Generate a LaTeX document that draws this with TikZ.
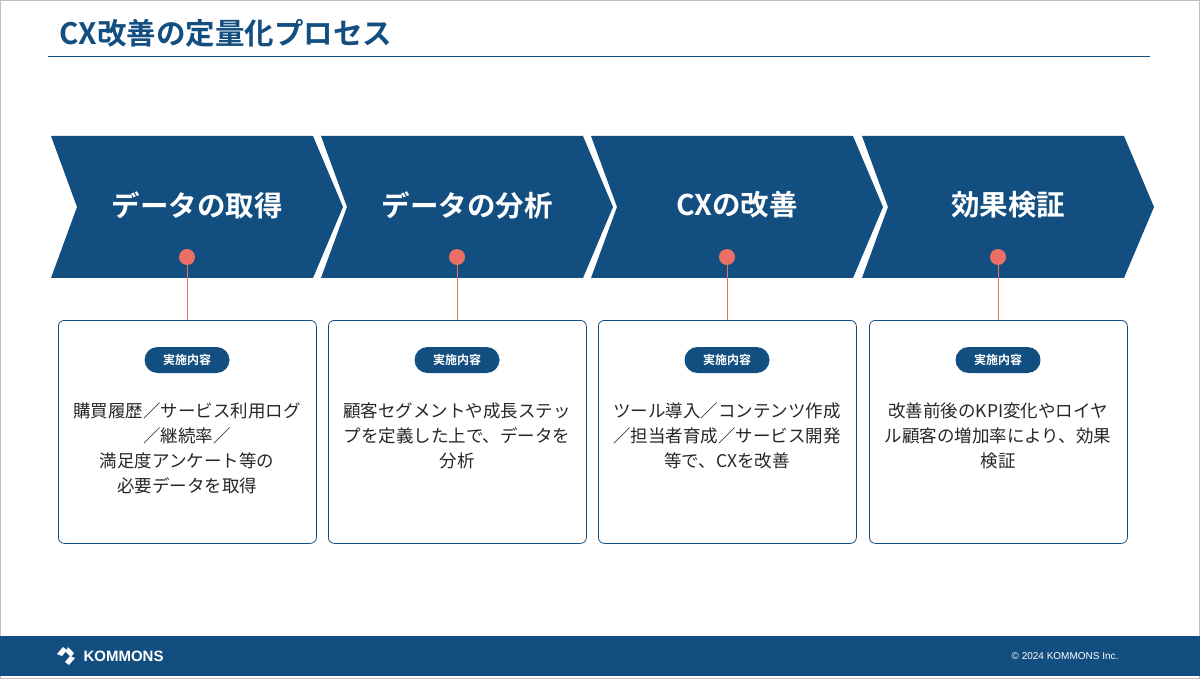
\documentclass[tikz,border=0pt]{standalone}
\usepackage{fontspec}
\setmainfont{Noto Sans CJK JP}
\newfontfamily\jpb{Noto Sans CJK JP Bold}
\newfontfamily\lat{Liberation Sans}
\definecolor{navy}{HTML}{134E80}
\definecolor{coral}{HTML}{EC6F66}
\begin{document}
\begin{tikzpicture}[x=1pt,y=-1pt,
  box/.style={draw=navy,line width=0.8pt,rounded corners=6pt,minimum width=258pt,minimum height=223pt,anchor=north west},
  pill/.style={fill=navy,text=white,rounded corners=13pt,minimum width=85pt,minimum height=26pt,inner sep=0pt,font=\jpb\fontsize{12}{12}\selectfont},
  desc/.style={align=center,font=\fontsize{17.5}{25}\selectfont,text=black!85},
  head/.style={text=white,font=\jpb\fontsize{28.5}{28.5}\selectfont},
  dot/.style={circle,fill=coral,minimum size=16pt,inner sep=0pt}]
\useasboundingbox (0,0) rectangle (1200,679);
\draw[black!25,line width=0.8pt] (0.5,0.5) rectangle (1199.5,678.5);
\node[anchor=west,text=navy,font=\jpb\fontsize{29.5}{29.5}\selectfont] (title) at (56,33) {CX改善の定量化プロセス};
\draw[navy,line width=0.8pt] (48,56) -- (1150,56);
\foreach \i/\x/\h/\d in {
 1/51/データの取得/{購買履歴／サービス利用ログ\\／継続率／\\満足度アンケート等の\\必要データを取得},
 2/321/データの分析/{顧客セグメントや成長ステッ\\プを定義した上で、データを\\分析},
 3/591/CXの改善/{ツール導入／コンテンツ作成\\／担当者育成／サービス開発\\等で、CXを改善},
 4/862/効果検証/{改善前後のKPI変化やロイヤ\\ル顧客の増加率により、効果\\検証}}{
  \fill[navy] (\x,136) -- (\x+262,136) -- (\x+292,207) -- (\x+262,278) -- (\x,278) -- (\x+26,207) -- cycle;
  \node[head] (h\i) at (\x+146,205) {\h};
  \node[box] (b\i) at (\x+7,320) {};
  \node[dot] (d\i) at (\x+136,257) {};
  \draw[coral,line width=0.9pt] (d\i.south) -- (d\i.south |- b\i.north);
  \node[pill] (p\i) at (\x+136,360) {実施内容};
  \node[desc,anchor=north] (t\i) at (\x+136,399) {\d};
}
\fill[navy] (0,636) rectangle (1200,676);
\node[anchor=west,text=white,font=\lat\bfseries\fontsize{15}{15}\selectfont] (logo) at (80,656) {KOMMONS};
\begin{scope}[shift={(66,656)}]
\fill[white] (-9,-2) -- (-3,-9) -- (1,-6) -- (-4,0) -- cycle;
\fill[white] (2,-9) -- (8,-3) -- (5,1) -- (0,-4) -- cycle;
\fill[white] (9,2) -- (3,9) -- (-1,6) -- (4,0) -- cycle;
\end{scope}
\node[anchor=east,text=white,font=\lat\fontsize{10}{10}\selectfont] (copy) at (1122,656) {© 2024 KOMMONS Inc.};
\end{tikzpicture}
\end{document}
